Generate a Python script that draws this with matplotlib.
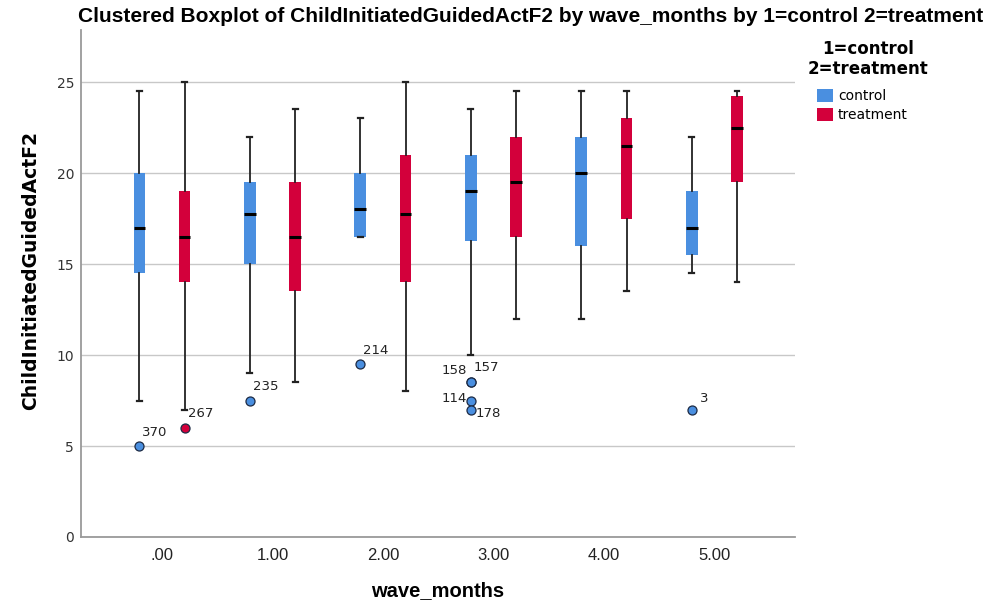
import matplotlib
matplotlib.use('Agg')
import matplotlib.pyplot as plt
from matplotlib.patches import Patch

# wave_months categories
waves = [0, 1, 2, 3, 4, 5]
wave_labels = ['.00', '1.00', '2.00', '3.00', '4.00', '5.00']

# control box stats (whisker low, Q1, median, Q3, whisker high)
ctrl_lo = [7.5, 9.0, 16.5, 10.0, 12.0, 14.5]
ctrl_q1 = [14.5, 15.0, 16.5, 16.25, 16.0, 15.5]
ctrl_med = [17.0, 17.75, 18.0, 19.0, 20.0, 17.0]
ctrl_q3 = [20.0, 19.5, 20.0, 21.0, 22.0, 19.0]
ctrl_hi = [24.5, 22.0, 23.0, 23.5, 24.5, 22.0]

# treatment box stats
trt_lo = [7.0, 8.5, 8.0, 12.0, 13.5, 14.0]
trt_q1 = [14.0, 13.5, 14.0, 16.5, 17.5, 19.5]
trt_med = [16.5, 16.5, 17.75, 19.5, 21.5, 22.5]
trt_q3 = [19.0, 19.5, 21.0, 22.0, 23.0, 24.25]
trt_hi = [25.0, 23.5, 25.0, 24.5, 24.5, 24.5]

# outliers: (wave, value, case id, label offset in px)
ctrl_out = [(0, 5.0, '370', (3, 14)), (1, 7.5, '235', (3, 14)), (2, 9.5, '214', (3, 14)),
            (3, 8.5, '157', (3, 15)), (3, 8.5, '158', (-4, 12)), (3, 7.5, '114', (-4, 2)),
            (3, 7.0, '178', (5, -4)), (5, 7.0, '3', (8, 11))]
trt_out = [(0, 6.0, '267', (3, 14))]

blue = '#4a8fe0'
red = '#d3003b'
offset = 0.205
narrow = ['Liberation Sans', 'DejaVu Sans']


def make_stats(lo, q1, med, q3, hi, outs):
    stats = []
    for i in range(len(waves)):
        fl = [v for (w, v, _, _) in outs if w == waves[i]]
        stats.append({'whislo': lo[i], 'q1': q1[i], 'med': med[i], 'q3': q3[i],
                      'whishi': hi[i], 'fliers': fl})
    return stats


fig = plt.figure(figsize=(10.03, 6.09), dpi=100)
ax = fig.add_axes([81 / 1003, 1 - 537 / 609, (795 - 81) / 1003, (537 - 30) / 609])

for stats, col, sign, outs in [
        (make_stats(ctrl_lo, ctrl_q1, ctrl_med, ctrl_q3, ctrl_hi, ctrl_out), blue, -1, ctrl_out),
        (make_stats(trt_lo, trt_q1, trt_med, trt_q3, trt_hi, trt_out), red, 1, trt_out)]:
    pos = [w + sign * offset for w in waves]
    ax.bxp(stats, positions=pos, widths=0.105, patch_artist=True, capwidths=0.045,
           boxprops=dict(facecolor=col, edgecolor=col, linewidth=0),
           medianprops=dict(color='black', linewidth=2.2, solid_capstyle='butt'),
           whiskerprops=dict(color='#222222', linewidth=1.3),
           capprops=dict(color='#222222', linewidth=1.6),
           flierprops=dict(marker='o', markersize=6.5, markerfacecolor=col,
                           markeredgecolor='#1c2a44', markeredgewidth=0.9, linestyle='none'),
           zorder=3)
    for (w, v, lab, (dx, dy)) in outs:
        ha = 'right' if dx < 0 else 'left'
        ax.annotate(lab, (w + sign * offset, v), xytext=(dx, dy), textcoords='offset pixels',
                    ha=ha, va='center', fontsize=9.5, color='#222222', zorder=4)

ax.set_xlim(-0.733, 5.73)
ax.set_ylim(0, 27.86)
ax.set_yticks([0, 5, 10, 15, 20, 25])
ax.set_xticks(waves)
ax.set_xticklabels(wave_labels, family=narrow, fontsize=12, color='#222222')
ax.tick_params(axis='y', length=0, pad=5, labelsize=10, labelcolor='#333333')
ax.tick_params(axis='x', length=0, pad=8)
ax.yaxis.grid(True, color='#c8c8c8', linewidth=1.0)
ax.set_axisbelow(True)
for s in ['top', 'right']:
    ax.spines[s].set_visible(False)
for s in ['left', 'bottom']:
    ax.spines[s].set_color('#9a9a9a')
    ax.spines[s].set_linewidth(1.3)

ax.set_ylabel('ChildInitiatedGuidedActF2', fontsize=13.5, fontweight='bold')
ax.yaxis.set_label_coords(-0.057, 0.525)
ax.set_xlabel('wave_months', fontsize=14.5, fontweight='bold', labelpad=13, family=narrow)

fig.text(531 / 1003, 1 - 16 / 609,
         'Clustered Boxplot of ChildInitiatedGuidedActF2 by wave_months by 1=control 2=treatment',
         ha='center', va='center', fontsize=15, fontweight='bold', family=narrow)

fig.text(868 / 1003, 1 - 49 / 609, '1=control', ha='center', va='center', fontsize=12, fontweight='bold')
fig.text(868 / 1003, 1 - 69 / 609, '2=treatment', ha='center', va='center', fontsize=12, fontweight='bold')

handles = [Patch(facecolor=blue, edgecolor='none', label='control'),
           Patch(facecolor=red, edgecolor='none', label='treatment')]
fig.legend(handles=handles, loc='upper left', bbox_to_anchor=(817 / 1003, 1 - 89 / 609),
           bbox_transform=fig.transFigure, frameon=False, fontsize=10, borderpad=0,
           borderaxespad=0, handlelength=1.15, handleheight=1.05, handletextpad=0.35,
           labelspacing=0.35)

fig.savefig('out.png', dpi=100)
